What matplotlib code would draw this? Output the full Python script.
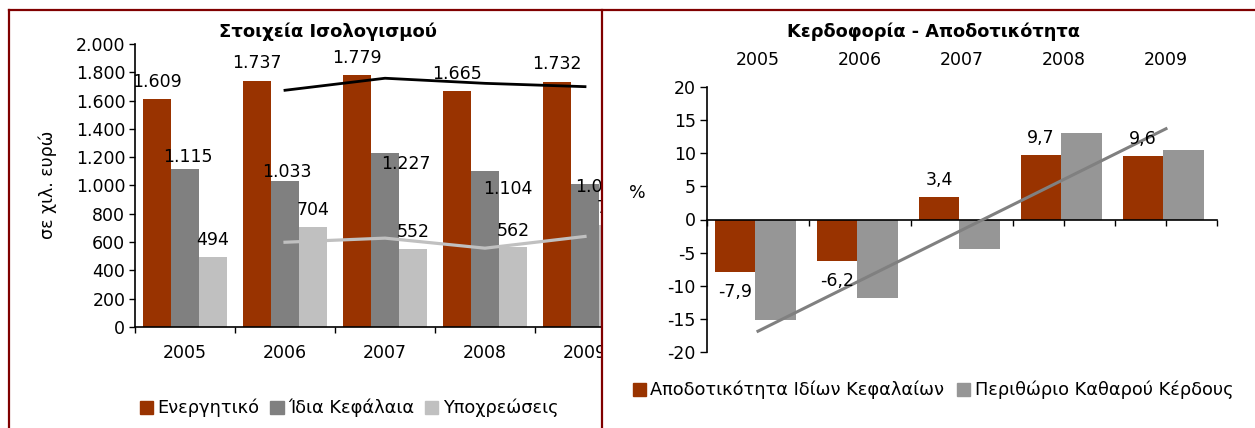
import numpy as np
import pandas as pd
import matplotlib
matplotlib.use("Agg")
import matplotlib.pyplot as plt
from matplotlib.patches import Rectangle, Patch
from matplotlib.lines import Line2D

years = ["2005", "2006", "2007", "2008", "2009"]

# Στοιχεία Ισολογισμού (χιλ. ευρώ)
assets = [1609, 1737, 1779, 1665, 1732]
equity = [1115, 1033, 1227, 1104, 1014]
liabilities = [494, 704, 552, 562, 718]

# Κερδοφορία - Αποδοτικότητα (%)
roe = [-7.9, -6.2, 3.4, 9.7, 9.6]
net_margin = [-15.2, -11.9, -4.4, 13.1, 10.5]

W, H = 1255, 428
RED = "#993300"
GRAY = "#808080"
LIGHT = "#C0C0C0"
MID = "#969696"
BORDER = "#800000"
FS = 12.5


def fx(px):
    return px / W


def fy(py):
    return 1 - py / H


def box(x0, y0, x1, y1):
    return [fx(x0), fy(y1), fx(x1 - x0), fy(y0) - fy(y1)]


def thousands(v):
    return f"{v:,}".replace(",", ".")


fig = plt.figure(figsize=(W / 100, H / 100), dpi=100)
fig.patch.set_facecolor("white")

# ---------- left chart ----------
ax = fig.add_axes(box(135, 44, 635, 327))
ax.set_zorder(0)
x = np.arange(len(years)) + 0.5
bw = 0.28
ax.bar(x - bw, assets, bw, color=RED, zorder=2)
ax.bar(x, equity, bw, color=GRAY, zorder=2)
ax.bar(x + bw, liabilities, bw, color=LIGHT, zorder=2)

# 2-period moving averages
ma_assets = pd.Series(assets).rolling(2).mean()
ma_liab = pd.Series(liabilities).rolling(2).mean()
ax.plot(x[1:], ma_assets[1:], color="black", lw=2.0, zorder=3)
ax.plot(x[1:], ma_liab[1:], color=LIGHT, lw=2.3, zorder=3)

# label offsets in px (dx, dy) from the bar top
off_assets = [(0, 17), (0, 18), (0, 17), (0, 17), (0, 18)]
off_equity = [(3, 12), (2, 9), (21, -11), (23, -18), (15, -3)]
off_liab = [(0, 17), (0, 17), (0, 17), (0, 16), (0, 17)]
for vals, offs, dx0 in [(assets, off_assets, -bw), (equity, off_equity, 0), (liabilities, off_liab, bw)]:
    for i, v in enumerate(vals):
        ax.annotate(thousands(v), (x[i] + dx0, v), xytext=(offs[i][0] * 0.72, offs[i][1] * 0.72),
                    textcoords="offset points", ha="center", va="center", fontsize=FS, zorder=4)

ax.set_xlim(0, 5)
ax.set_ylim(0, 2000)
ax.set_yticks(range(0, 2001, 200))
ax.set_yticklabels([thousands(v) for v in range(0, 2001, 200)], fontsize=FS)
ax.set_xticks(np.arange(0, 6))
ax.set_xticklabels([])
ax.set_xticks(x, minor=True)
ax.set_xticklabels(years, minor=True, fontsize=FS)
ax.tick_params(axis="x", which="minor", length=0, pad=12)
ax.tick_params(axis="x", which="major", length=4.5, width=1)
ax.tick_params(axis="y", length=4, width=1, pad=3)
for s in ["top", "right"]:
    ax.spines[s].set_visible(False)
for s in ["left", "bottom"]:
    ax.spines[s].set_linewidth(1.2)

fig.text(fx(48), fy(185), "σε χιλ. ευρώ", rotation=90, ha="center", va="center", fontsize=FS)
fig.text(fx(328), fy(32), "Στοιχεία Ισολογισμού", ha="center", va="center", fontsize=13, fontweight="bold")

fig.legend(handles=[Patch(color=RED, label="Ενεργητικό"),
                    Patch(color=GRAY, label="Ίδια Κεφάλαια"),
                    Patch(color=LIGHT, label="Υποχρεώσεις")],
           loc="center", bbox_to_anchor=(fx(349), fy(408)), ncol=3, frameon=False,
           fontsize=12.8, handlelength=0.75, handleheight=0.75, handletextpad=0.25, columnspacing=0.6)

# cover the part of the left chart that runs under the right panel
fig.add_artist(Rectangle((fx(603), 0), 1 - fx(603), fy(11), transform=fig.transFigure,
                         facecolor="white", edgecolor="none", zorder=1))

# ---------- right chart ----------
ax2 = fig.add_axes(box(707, 87, 1217, 352))
ax2.set_zorder(2)
ax2.patch.set_alpha(0)
bw2 = 0.4
xc = np.arange(len(years)) + 0.475
ax2.bar(xc - bw2 / 2, roe, bw2, color=RED, zorder=2)
ax2.bar(xc + bw2 / 2, net_margin, bw2, color=MID, zorder=2)

coef = np.polyfit(np.arange(len(years)), net_margin, 1)
tx = np.array([0, len(years) - 1])
ax2.plot(tx + 0.5, np.polyval(coef, tx), color=GRAY, lw=2.2, zorder=3)

for i, v in enumerate(roe):
    dy = 17 if v > 0 else -20
    ax2.annotate(f"{v:.1f}".replace(".", ","), (xc[i] - bw2 / 2, v), xytext=(0, dy * 0.72),
                 textcoords="offset points", ha="center", va="center", fontsize=FS, zorder=4)

ax2.set_xlim(0, 5)
ax2.set_ylim(-20, 20)
ax2.set_yticks(range(-20, 21, 5))
ax2.set_yticklabels([str(v) for v in range(-20, 21, 5)], fontsize=FS)
ax2.tick_params(axis="y", length=5, width=1, pad=3)
ax2.spines["bottom"].set_position(("data", 0))
ax2.set_xticks(np.arange(0, 5.01, 0.5))
ax2.set_xticklabels([])
ax2.tick_params(axis="x", length=4, width=1)
for s in ["top", "right"]:
    ax2.spines[s].set_visible(False)
for s in ["left", "bottom"]:
    ax2.spines[s].set_linewidth(1.2)

top = ax2.secondary_xaxis("top")
top.set_xticks(np.arange(len(years)) + 0.5)
top.set_xticklabels(years, fontsize=FS)
top.tick_params(length=0, pad=13)
top.spines["top"].set_visible(False)

fig.text(fx(637), fy(193), "%", ha="center", va="center", fontsize=FS)
fig.text(fx(933), fy(32), "Κερδοφορία - Αποδοτικότητα", ha="center", va="center", fontsize=12.8, fontweight="bold")

fig.legend(handles=[Patch(color=RED, label="Αποδοτικότητα Ιδίων Κεφαλαίων"),
                    Patch(color=MID, label="Περιθώριο Καθαρού Κέρδους")],
           loc="center", bbox_to_anchor=(fx(933), fy(390)), ncol=2, frameon=False,
           fontsize=12.8, handlelength=0.75, handleheight=0.75, handletextpad=0.25, columnspacing=0.7)

# dark red frame
for xs, ys in [((9, 9), (10, 428)), ((602, 602), (10, 428)), ((9, 1255), (10, 10))]:
    fig.add_artist(Line2D([fx(xs[0]), fx(xs[1])], [fy(ys[0]), fy(ys[1])], transform=fig.transFigure,
                          color=BORDER, lw=1.6, zorder=5))

fig.savefig("out.png", dpi=100)
